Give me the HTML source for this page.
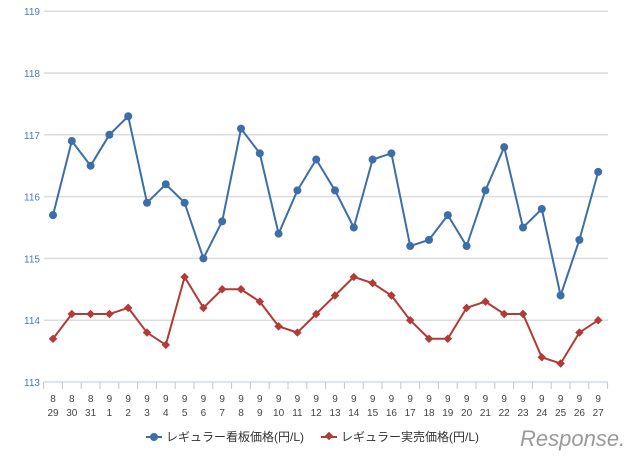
<!DOCTYPE html>
<html><head><meta charset="utf-8"><style>
body{margin:0;background:#fff}
svg text{font-family:"Liberation Sans","Noto Sans CJK JP",sans-serif}
</style></head><body>
<svg width="640" height="460">
<g id="grid"></g><g id="axis"></g><g id="series"></g>
<g>
<line x1="146" y1="437" x2="162" y2="437" stroke="#3d6ea8" stroke-width="2"/><circle cx="154" cy="437" r="4" fill="#3d6ea8"/>
<text x="166" y="441" font-size="12" fill="#333">レギュラー看板価格(円/L)</text>
<line x1="321" y1="437" x2="337" y2="437" stroke="#b23a37" stroke-width="2"/><rect x="326" y="433" width="6" height="6" fill="#b23a37" transform="rotate(45 329 436)"/>
<text x="341" y="441" font-size="12" fill="#333">レギュラー実売価格(円/L)</text>
</g>
<text x="520" y="446" font-size="22" fill="#9a9a9a" font-style="italic">Response.</text>
</svg>
<script>
const categoriesTop=["8","8","8","9","9","9","9","9","9","9","9","9","9","9","9","9","9","9","9","9","9","9","9","9","9","9","9","9","9","9"];
const categoriesBottom=["29","30","31","1","2","3","4","5","6","7","8","9","10","11","12","13","14","15","16","17","18","19","20","21","22","23","24","25","26","27"];
const listPrice=[115.7,116.9,116.5,117.0,117.3,115.9,116.2,115.9,115.0,115.6,117.1,116.7,115.4,116.1,116.6,116.1,115.5,116.6,116.7,115.2,115.3,115.7,115.2,116.1,116.8,115.5,115.8,114.4,115.3,116.4];
const actualPrice=[113.7,114.1,114.1,114.1,114.2,113.8,113.6,114.7,114.2,114.5,114.5,114.3,113.9,113.8,114.1,114.4,114.7,114.6,114.4,114.0,113.7,113.7,114.2,114.3,114.1,114.1,113.4,113.3,113.8,114.0];
const yTicks=[113,114,115,116,117,118,119];
const NS="http://www.w3.org/2000/svg";
const x0=43.6,cw=18.8,yBase=382,ppu=61.8;
const X=i=>x0+cw*(i+0.5), Y=v=>yBase-(v-113)*ppu;
function mk(tag,attrs,parent){const e=document.createElementNS(NS,tag);for(const k in attrs)e.setAttribute(k,attrs[k]);document.getElementById(parent).appendChild(e);return e;}
yTicks.forEach(t=>{
 if(t>113){const l=mk('line',{x1:44,x2:608,y1:Y(t),y2:Y(t),stroke:'#dcdcdc','stroke-width':1.5},'grid');
 
 }
 const tx=mk('text',{x:24,y:Y(t)+4,'font-size':10,fill:'#4a7ab5'},'grid');tx.textContent=t;
 
 
});
const ax=mk('line',{x1:x0,x2:x0+cw*30,y1:yBase,y2:yBase,stroke:'#b8c8dc'},'axis');


for(let i=0;i<=30;i++){mk('line',{x1:x0+cw*i,x2:x0+cw*i,y1:yBase,y2:yBase+7,stroke:'#b8c8dc'},'axis');}
categoriesBottom.forEach((c,i)=>{
 const a=mk('text',{x:X(i),y:402,'font-size':10,fill:'#444','text-anchor':'middle'},'axis');a.textContent=categoriesTop[i];
 
 
 const b=mk('text',{x:X(i),y:416,'font-size':10,fill:'#444','text-anchor':'middle'},'axis');b.textContent=c;
 
 
});
function series(vals,color,marker,name){
 const p=mk('polyline',{points:vals.map((v,i)=>X(i)+','+Y(v)).join(' '),fill:'none',stroke:color,'stroke-width':2},'series');
 
 
 vals.forEach((v,i)=>{let m;
  if(marker==='c')m=mk('circle',{cx:X(i),cy:Y(v),r:4,fill:color},'series');
  else m=mk('rect',{x:X(i)-3,y:Y(v)-3,width:6,height:6,fill:color,transform:`rotate(45 ${X(i)} ${Y(v)})`},'series');
  
  });
}
series(listPrice,'#3d6ea8','c','list-price');
series(actualPrice,'#b23a37','d','actual-price');
</script>
</body></html>
